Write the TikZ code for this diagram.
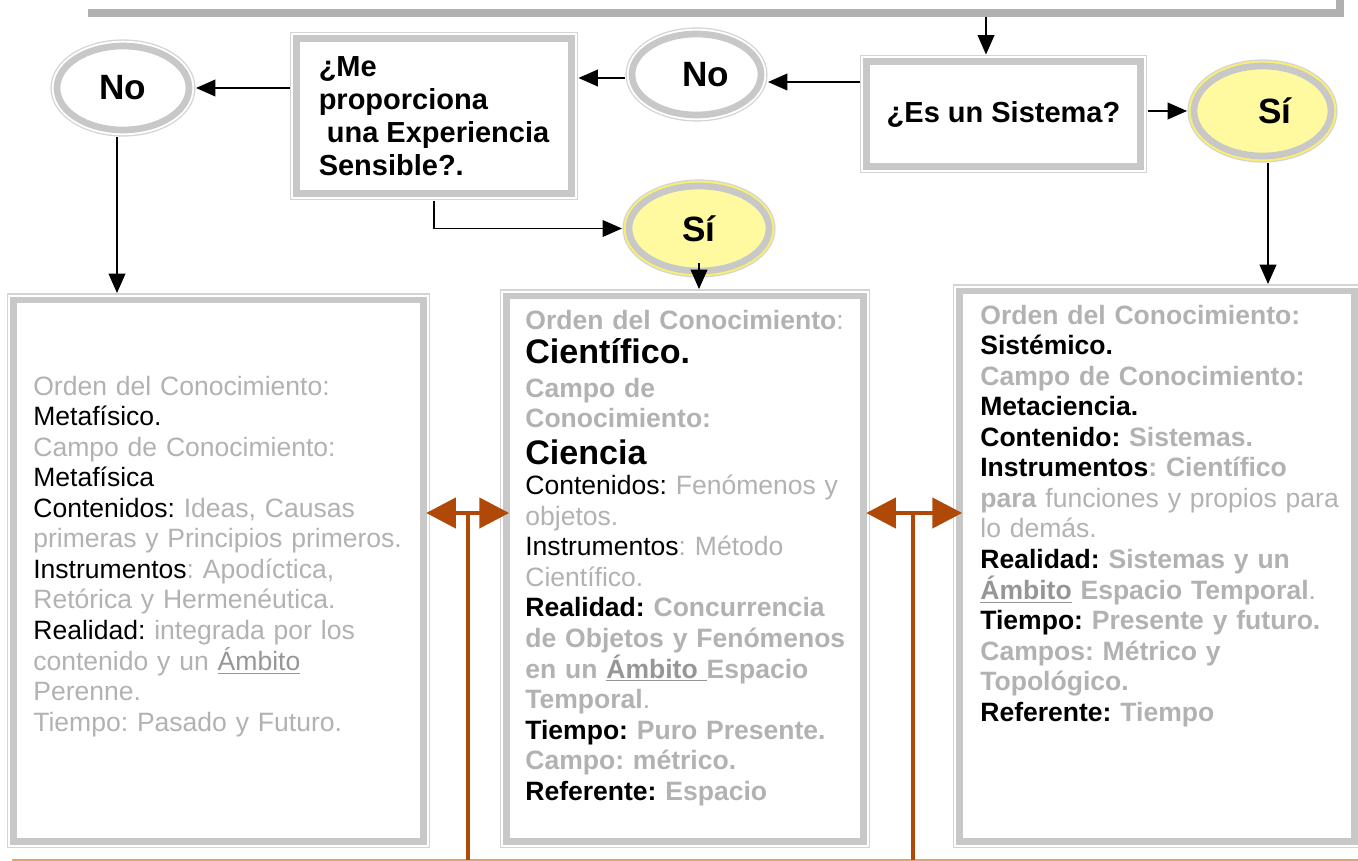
\documentclass[tikz,border=0pt]{standalone}
\usepackage{fontspec}
\setmainfont{Liberation Sans}
\usepackage{xcolor}
\usepackage{tikz}
\usetikzlibrary{arrows.meta,positioning,calc,shapes.geometric}
\frenchspacing

\definecolor{framegray}{RGB}{200,200,200}
\definecolor{rimgray}{RGB}{212,212,212}
\definecolor{bargray}{RGB}{176,176,176}
\definecolor{txtgray}{RGB}{178,178,178}
\definecolor{ambgray}{RGB}{150,150,150}
\definecolor{siyellow}{RGB}{255,250,160}
\definecolor{rimyellow}{RGB}{250,240,110}
\definecolor{obrown}{RGB}{176,72,8}
\definecolor{tanline}{RGB}{222,165,115}

\newcommand{\gtxt}[1]{\textcolor{txtgray}{#1}}
\newcommand{\amb}[1]{\textcolor{ambgray}{\underline{#1}}}

\begin{document}
\begin{tikzpicture}[x=0.02cm,y=-0.02cm,
  dframe/.style={draw=framegray,line width=3.8pt,outer sep=4pt,
    preaction={draw=rimgray,line width=7.5pt},
    preaction={draw=#1,line width=6pt}},
  qbox/.style={rectangle,dframe=white,fill=white,align=left,font=\bfseries\fontsize{16.5}{18.8}\selectfont},
  cbox/.style={rectangle,dframe=white,fill=white},
  ans/.style={ellipse,dframe=white,fill=white,inner sep=0pt,font=\bfseries\fontsize{20}{24}\selectfont},
  yans/.style={ellipse,dframe=rimyellow,fill=siyellow,inner sep=0pt,font=\bfseries\fontsize{20}{24}\selectfont},
  ctext/.style={anchor=base west,inner sep=0pt,text width=8cm,align=left,font=\fontsize{15.1}{17.4}\selectfont},
  arr/.style={-{Triangle[length=11pt,width=9.5pt]},line width=0.85pt},
  oarr/.style={{Triangle[length=17pt,width=17pt]}-{Triangle[length=17pt,width=17pt]},obrown,line width=2.8pt,shorten <=-2.5pt,shorten >=-5.5pt},
  ostem/.style={obrown,line width=2.8pt}
]
\useasboundingbox (0,0) rectangle (1358,861);

\draw[bargray,line width=4.5pt] (88,13) -- (1340,13) -- (1340,-10);
\coordinate (barT) at (986,17);

\node[ans,minimum width=2.64cm,minimum height=1.68cm] (noA) at (123,88) {No};
\node[ans,minimum width=2.58cm,minimum height=1.62cm] (noB) at (696.5,74.5) {\hspace*{0.38cm}No};
\node[yans,minimum width=2.74cm,minimum height=1.8cm] (siA) at (1262.5,111) {\hspace*{0.5cm}Sí};
\node[yans,minimum width=2.8cm,minimum height=1.7cm] (siB) at (699,228.5) {Sí};

\node[qbox,minimum width=5.5cm,minimum height=3.1cm] (exp) at (434,116) {¿Me\\proporciona\\\hspace*{0.28em}una Experiencia\\Sensible?.};
\node[qbox,minimum width=5.48cm,minimum height=2.1cm] (sis) at (1003.5,114) {¿Es un Sistema?};

\node[cbox,minimum width=8.2cm,minimum height=10.83cm] (meta) at (218.5,570.75) {};
\node[cbox,minimum width=7.14cm,minimum height=10.91cm] (cien) at (685,568.75) {};
\node[cbox,minimum width=7.9cm,minimum height=11.01cm] (sist) at (1157,566.25) {};

\node[ctext] (metaT) at (33,395) {\gtxt{Orden del Conocimiento:}\\
Metafísico.\\
\gtxt{Campo de Conocimiento:}\\
Metafísica\\
Contenidos: \gtxt{Ideas, Causas}\\
\gtxt{primeras y Principios primeros.}\\
Instrumentos\gtxt{: Apodíctica,}\\
\gtxt{Retórica y Hermenéutica.}\\
Realidad: \gtxt{integrada por los}\\
\gtxt{contenido y un} \amb{Ámbito}\\
\gtxt{Perenne.}\\
\gtxt{Tiempo: Pasado y Futuro.}};

\node[ctext] (cienT) at (525,330) {\textbf{\gtxt{Orden del Conocimiento}}\gtxt{:}\\[1.6pt]
{\bfseries\fontsize{19.4}{22}\selectfont Científico.}\\[1.8pt]
\textbf{\gtxt{Campo de}}\\
\textbf{\gtxt{Conocimiento:}}\\[3.3pt]
{\bfseries\fontsize{19.4}{22}\selectfont Ciencia}\\
Contenidos: \gtxt{Fenómenos y}\\
\gtxt{objetos.}\\
Instrumentos\gtxt{: Método}\\
\gtxt{Científico.}\\
\textbf{Realidad: \gtxt{Concurrencia}}\\
\textbf{\gtxt{de Objetos y Fenómenos}}\\
\textbf{\gtxt{en un }\amb{Ámbito }\gtxt{Espacio}}\\
\textbf{\gtxt{Temporal}}\gtxt{.}\\
\textbf{Tiempo: \gtxt{Puro Presente.}}\\
\textbf{\gtxt{Campo: métrico.}}\\
\textbf{Referente: \gtxt{Espacio}}};

\node[ctext] (sistT) at (980,324) {\textbf{\gtxt{Orden del Conocimiento:}}\\
\textbf{Sistémico.}\\
\textbf{\gtxt{Campo de Conocimiento:}}\\
\textbf{Metaciencia.}\\
\textbf{Contenido: \gtxt{Sistemas.}}\\
\textbf{Instrumentos\gtxt{: Científico}}\\
\gtxt{\textbf{para} funciones y propios para}\\
\gtxt{lo demás.}\\
\textbf{Realidad: \gtxt{Sistemas y un}}\\
\textbf{\amb{Ámbito} \gtxt{Espacio Temporal}}\gtxt{.}\\
\textbf{Tiempo: \gtxt{Presente y futuro.}}\\
\textbf{\gtxt{Campos: Métrico y}}\\
\textbf{\gtxt{Topológico.}}\\
\textbf{Referente: \gtxt{Tiempo}}};

\draw[arr] (barT) -- (barT |- sis.north);
\draw[arr] (sis.west |- 0,82) -- (noB.east |- 0,82);
\draw[arr] (noB.west |- 0,78) -- (exp.east |- 0,78);
\draw[arr] (exp.west |- noA) -- (noA.east);
\draw[arr] (noA.south -| 117,0) -- (117,0 |- meta.north);
\draw[arr] (exp.south) |- (siB.west);
\draw[arr] ([yshift=0.3cm]siB.south) -- (siB.south |- cien.north);
\draw[arr] (sis.east |- siA) -- (siA.west);
\draw[arr] (siA.south -| 1268,0) -- (1268,0 |- sist.north);

\coordinate (baseL) at (12,860);
\coordinate (baseR) at (1358,860);
\coordinate (o1) at (468,513);
\coordinate (o2) at (913,513);
\draw[tanline,line width=0.85pt] (baseL) -- (baseR);
\draw[ostem] (o1) -- (o1 |- baseL);
\draw[ostem] (o2) -- (o2 |- baseL);
\draw[oarr] (meta.east |- o1) -- (cien.west |- o1);
\draw[oarr] (cien.east |- o2) -- (sist.west |- o2);
\end{tikzpicture}
\end{document}
